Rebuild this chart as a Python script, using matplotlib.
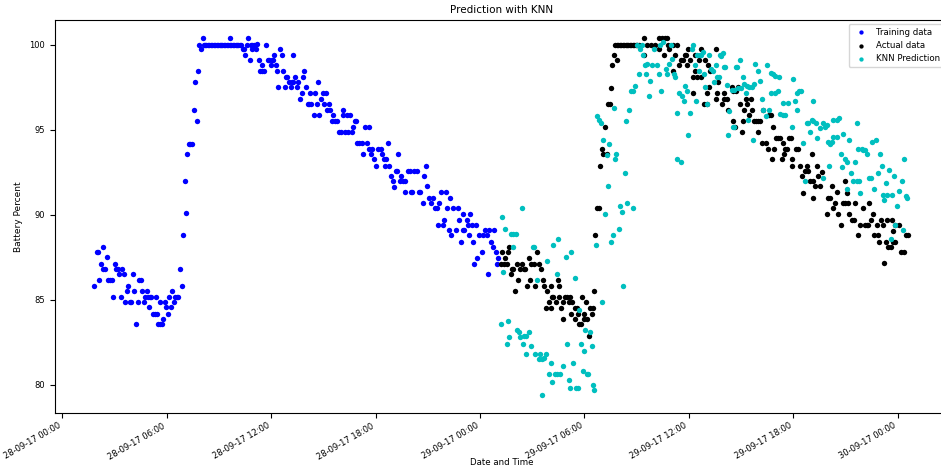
import matplotlib
matplotlib.use("Agg")
import matplotlib.pyplot as plt
import matplotlib.dates as mdates
import numpy as np
import datetime as dt

BASE = dt.datetime(2017, 9, 28, 0, 0)

# hours since 28-09-17 00:00, battery percent
train_hours = [1.83, 1.97, 2.03, 2.12, 2.22, 2.32, 2.36, 2.45, 2.58, 2.62, 2.74, 2.85, 2.91, 3.01, 3.08, 3.18,
               3.27, 3.35, 3.43, 3.52, 3.61, 3.70, 3.79, 3.87, 3.96, 4.04, 4.13, 4.23, 4.33, 4.40, 4.50, 4.57,
               4.67, 4.75, 4.84, 4.92, 4.99, 5.02, 5.11, 5.19, 5.32, 5.36, 5.45, 5.49, 5.61, 5.63, 5.71, 5.80,
               5.88, 5.95, 6.05, 6.14, 6.22, 6.32, 6.40, 6.47, 6.57, 6.66, 6.74, 6.86, 6.91, 7.03, 7.09, 7.18,
               7.26, 7.34, 7.43, 7.55, 7.62, 7.72, 7.81, 7.87, 7.98, 8.06,
               8.12, 8.20, 8.28, 8.37, 8.45, 8.53, 8.62, 8.70, 8.78, 8.87, 8.95, 9.03, 9.12, 9.20, 9.28, 9.37,
               9.45, 9.53, 9.62, 9.70, 9.78, 9.87, 9.95, 10.03, 10.12, 10.20, 10.28, 9.65,
               10.36, 10.44, 10.49, 10.59, 10.67, 10.76, 10.84, 10.91, 10.92, 11.01, 11.13, 11.18, 11.30, 11.37,
               11.45, 11.47, 11.57, 11.72, 11.80, 11.90, 11.99, 12.02, 12.09, 12.16, 12.25, 12.35, 12.41, 12.51,
               12.60, 12.68, 12.79, 12.83, 12.93, 13.04, 13.14, 13.17, 13.24, 13.27, 13.37, 13.48, 13.56, 13.67,
               13.75, 13.81, 13.90, 14.02, 14.10, 14.19, 14.25, 14.29, 14.44, 14.52, 14.62, 14.71, 14.76, 14.86,
               14.98, 15.02, 15.15, 15.30, 15.19, 15.38, 15.57, 15.49, 15.65, 15.80, 15.91, 16.03, 16.26, 16.41,
               16.64, 16.11, 16.14, 16.34, 16.53, 16.68, 16.80, 16.87, 16.91, 17.06, 17.22, 17.29, 17.39, 17.49,
               17.60, 17.64, 17.75, 17.79, 17.91, 18.02, 18.14, 18.29, 18.37, 18.48, 18.56, 18.60, 18.71, 18.79,
               18.87, 18.98, 19.06, 19.17, 19.25, 19.30, 19.40, 19.48, 19.56, 19.69, 19.71, 19.88, 19.98, 20.02,
               20.09, 20.21, 20.36, 20.48, 20.55, 20.71, 20.78, 20.90, 20.97, 21.07, 21.17, 21.32, 21.41, 21.51,
               21.60, 21.66, 21.76, 21.86, 21.93, 22.03, 22.08, 22.22, 22.28, 22.35, 22.43, 22.62, 22.72, 22.81,
               22.89, 23.01, 23.04, 23.10, 23.24, 23.33, 23.37, 23.43, 23.56, 23.58, 23.67, 23.79, 23.85, 23.97,
               24.12, 24.16, 24.29, 24.39, 24.48, 24.54, 24.65, 24.73, 24.82, 24.92, 24.99, 25.05]
train_values = [85.85, 87.8, 87.8, 86.2, 87.1, 88.1, 86.8, 86.8, 87.5, 86.2, 86.2, 86.2, 85.2, 87.1, 86.8, 86.8,
                86.5, 85.2, 86.8, 86.5, 84.9, 85.5, 85.8, 84.9, 84.9, 86.5, 85.5, 83.6, 84.9, 86.2, 86.2, 85.5,
                84.9, 85.2, 85.5, 85.2, 84.6, 85.2, 85.2, 84.2, 84.2, 85.2, 84.2, 83.6, 83.6, 84.9, 83.6, 83.9,
                84.9, 84.6, 84.2, 85.2, 84.6, 85.5, 84.9, 85.2, 85.2, 85.2, 86.8, 85.8, 88.8, 92.0, 90.1, 93.6,
                94.2, 94.2, 94.2, 96.2, 97.8, 95.5, 98.45, 100.0, 99.75, 100.4,
                100, 100, 100, 100, 100, 100, 100, 100, 100, 100, 100, 100, 100, 100, 100, 100,
                100, 100, 100, 100, 100, 100, 100, 100, 100, 100, 100, 100.4,
                99.75, 99.75, 99.4, 100, 100.4, 99.1, 100, 99.75, 100, 100, 99.75, 100.05, 99.1, 98.45,
                98.8, 98.45, 98.45, 100, 99.1, 99.1, 98.8, 99.1, 99.1, 99.4, 98.8, 98.45, 97.5, 99.75,
                99.4, 98.45, 97.5, 98.1, 98.1, 97.8, 97.5, 97.8, 97.8, 99.4, 98.1, 97.5, 97.8, 96.8,
                97.2, 98.1, 98.45, 97.5, 96.5, 96.5, 97.2, 96.5, 95.9, 97.2, 96.5, 97.8, 95.9, 96.8,
                97.2, 96.5, 97.2, 96.5, 96.2, 96.2, 95.9, 95.5, 95.5, 95.5, 94.9, 94.9, 94.9, 94.9,
                94.9, 96.2, 95.9, 95.9, 95.9, 95.2, 95.5, 95.5, 94.25, 94.25, 94.25, 93.6, 95.2, 94.25,
                93.9, 95.2, 93.6, 93.9, 93.3, 92.9, 93.9, 93.9, 93.6, 93.3, 92.9, 93.3, 94.25, 92.9,
                92.3, 92.0, 91.65, 92.6, 92.6, 93.6, 92.0, 92.3, 92.0, 91.35, 92.0, 92.6, 92.6, 91.35,
                91.35, 92.6, 92.6, 91.35, 91.35, 90.7, 92.3, 92.9, 91.7, 91.0, 90.7, 91.0, 90.4, 90.4,
                89.4, 90.7, 91.35, 89.4, 89.7, 91.35, 90.4, 89.1, 91.0, 88.8, 90.4, 89.1, 90.4, 89.7,
                88.4, 89.1, 90.05, 89.1, 89.7, 89.4, 88.8, 90.05, 89.4, 88.4, 87.1, 89.4, 87.45, 88.8,
                87.8, 88.8, 89.1, 88.8, 86.5, 89.1, 88.4, 88.1, 89.1, 87.8, 87.1, 87.45]

actual_hours = [25.19, 25.25, 25.36, 25.43, 25.53, 25.59, 25.67, 25.76, 25.82, 25.91, 26.03, 26.11, 26.20, 26.30,
                26.40, 26.53, 26.59, 26.72, 26.83, 26.87, 26.96, 27.10, 27.16, 27.26, 27.37, 27.51, 27.64, 27.66,
                27.78, 27.84, 27.95, 28.07, 28.12, 28.22, 28.06, 28.39, 28.50, 28.52, 28.54, 28.64, 28.75, 28.79,
                28.89, 29.02, 29.10, 29.17, 29.21, 29.29, 29.46, 29.56, 29.47, 29.66, 29.70, 29.82, 29.89, 29.97,
                29.99, 30.07, 30.13, 30.24, 30.33, 30.42, 30.48, 30.57, 30.64, 30.70, 30.84, 30.91, 30.99, 31.09,
                31.19, 31.28, 31.38, 31.47, 31.53, 31.59, 31.70, 31.86,
                31.78, 31.87, 31.95, 32.03, 32.12, 32.20, 32.28, 32.37, 32.45, 32.53, 32.62, 32.70, 32.78, 32.87,
                32.95, 33.03, 33.12,
                33.43, 33.43, 33.58, 33.83, 34.06, 34.27, 34.30, 34.46, 34.57, 34.61, 34.73, 34.79, 34.88, 35.07,
                35.11, 35.22, 35.30, 35.45, 35.57, 35.65, 35.78, 35.84, 35.91, 35.97, 36.07, 36.22, 36.26, 36.34,
                36.36, 36.45, 36.60, 36.68, 36.70, 36.87, 36.93, 37.03, 37.05, 37.10, 37.14, 37.22, 37.56, 37.56,
                37.60, 37.70, 37.91, 38.02, 38.03, 38.18, 38.27, 38.47, 38.56, 38.57, 38.66, 38.71, 38.84, 38.94,
                39.04, 39.13, 39.17, 39.29, 39.33, 39.48, 39.56, 39.61, 39.75, 39.86, 39.98, 39.99, 40.09, 40.19,
                40.28, 40.44, 40.57, 40.63, 40.71, 40.76, 40.86, 40.90, 41.01, 41.13, 41.24, 41.34, 41.40, 41.47,
                41.55, 41.63, 41.78, 41.86, 41.92, 41.93, 42.16, 42.29, 42.39, 42.49, 42.55, 42.68, 42.78, 42.87,
                42.97, 43.08, 43.12, 43.16, 43.25, 43.35, 43.44, 43.54, 43.64, 43.92, 44.01, 44.11, 44.21, 44.30,
                44.40, 44.53, 44.59, 44.73, 44.84, 44.98, 45.08, 45.00, 45.17, 45.23, 45.37, 45.51, 45.57, 45.75,
                45.84, 46.03, 46.13, 46.22, 46.32, 46.38, 46.45, 46.57, 46.64, 46.80, 46.89, 46.91, 47.05, 47.15,
                47.22, 47.33, 47.37, 47.47, 47.61, 47.66, 47.75, 47.76, 47.85, 47.87, 48.10, 48.18, 48.37, 48.48,
                48.61]
actual_values = [87.1, 87.8, 87.1, 87.45, 87.1, 87.8, 88.1, 86.5, 86.8, 86.8, 85.5, 87.1, 86.2, 86.8,
                 87.1, 86.8, 86.8, 85.8, 87.45, 86.2, 87.1, 87.1, 85.8, 87.8, 87.1, 86.8, 86.2, 85.8,
                 84.55, 85.5, 84.9, 85.8, 85.2, 85.2, 84.55, 84.9, 86.2, 85.8, 85.2, 84.55, 83.9, 84.9,
                 85.2, 85.2, 84.9, 85.2, 84.2, 84.9, 84.55, 84.55, 83.9, 84.2, 83.6, 83.6, 85.2, 83.9,
                 84.2, 84.9, 83.9, 82.9, 84.55, 84.2, 84.55, 85.5, 88.8, 90.4, 90.4, 92.9, 93.9, 93.6,
                 95.2, 93.6, 96.5, 96.5, 97.45, 98.8, 99.4, 99.1,
                 100, 100, 100, 100, 100, 100, 100, 100, 100, 100, 100, 100, 100, 100,
                 100, 100, 100,
                 100.4, 99.4, 100, 100, 100, 99.75, 100.4, 100.4, 99.4, 100.4, 100.4, 100, 99.75, 100,
                 98.45, 99.4, 100, 98.8, 99.1, 99.1, 99.4, 99.4, 98.8, 99.75, 99.1, 98.1, 97.2, 98.45,
                 99.4, 98.1, 99.1, 98.1, 99.75, 96.5, 99.1, 96.5, 97.2, 98.8, 97.5, 98.45, 96.8, 99.75,
                 97.2, 97.8, 96.5, 97.2, 96.8, 96.8, 96.2, 97.5, 97.3, 95.5, 95.2, 97.3, 97.5, 96.5,
                 94.9, 95.5, 96.2, 96.8, 96.5, 95.9, 96.8, 96.2, 95.5, 95.5, 94.9, 95.5, 95.5, 94.25,
                 96.2, 94.25, 93.9, 95.9, 95.9, 93.3, 95.2, 93.9, 94.55, 94.55, 94.55, 93.3, 94.25, 93.6,
                 93.9, 93.9, 94.55, 94.55, 92.9, 93.3, 93.9, 93.9, 92.9, 92.3, 91.3, 92.6, 92.9, 92.6,
                 92.0, 93.6, 91.0, 92.0, 91.7, 92.9, 92.3, 91.7, 92.5, 90.05, 91.0, 91.0, 91.7, 90.4,
                 90.7, 91.35, 90.05, 89.4, 90.7, 92.0, 91.3, 90.7, 90.7, 90.05, 89.7, 89.7, 90.7, 88.8,
                 89.4, 90.4, 89.4, 89.4, 89.4, 90.7, 89.7, 90.05, 88.8, 89.4, 88.8, 88.4, 89.7, 89.4,
                 87.15, 88.4, 89.7, 88.1, 88.1, 89.7, 89.05, 88.4, 89.4, 88.4, 89.4, 87.8, 87.8, 88.8,
                 88.8]

pred_hours = [25.19, 25.25, 25.34, 25.43, 25.53, 25.63, 25.68, 25.76, 25.87, 25.91, 26.07, 26.14, 26.24, 26.30,
              26.40, 26.45, 26.53, 26.64, 26.65, 26.83, 26.91, 27.03, 27.12, 27.16, 27.30, 27.41, 27.45, 27.55,
              27.56, 27.68, 27.79, 27.87, 27.95, 28.07, 28.14, 28.22, 28.31, 28.41, 28.44, 28.48, 28.60, 28.75,
              28.93, 29.02, 29.10, 29.17, 29.25, 29.36, 29.46, 29.52, 29.65, 29.71, 29.79, 29.90, 29.98, 30.05,
              30.13, 30.22, 30.32, 30.42, 30.48, 30.57, 30.66, 30.74, 30.82, 30.94, 31.01, 31.09, 31.17, 31.28,
              31.36, 31.44, 31.52, 31.63, 31.70, 31.78, 31.82, 31.97, 32.05, 32.14, 32.24, 32.32, 32.39, 32.47,
              32.59, 32.70, 32.78, 32.81, 32.93, 33.04, 33.12, 33.20, 33.30, 33.35, 33.47, 33.54, 33.61, 33.73,
              33.77, 33.89, 34.00, 34.16, 34.27, 34.34, 34.42, 34.53, 34.69, 34.76, 34.84, 34.96, 35.03, 35.15,
              35.22, 35.30, 35.34, 35.45, 35.53, 35.61, 35.72, 35.80, 35.91, 35.95, 36.07, 36.18, 36.26, 36.34,
              36.41, 36.49, 36.60, 36.62, 36.70, 36.81, 36.89, 36.95, 37.03, 37.14, 37.26, 37.41, 37.45, 37.56,
              37.64, 37.72, 37.79, 37.83, 37.95, 38.02, 38.08, 38.18, 38.27, 38.33, 38.47, 38.53, 38.60, 38.61,
              38.71, 38.79, 38.84, 38.94, 38.98, 39.10, 39.17, 39.29, 39.33, 39.42, 39.48, 39.61, 39.67, 39.75,
              39.80, 39.99, 40.09, 40.19, 40.28, 40.44, 40.52, 40.63, 40.71, 40.72, 40.83, 40.95, 40.98, 41.14,
              41.20, 41.24, 41.40, 41.41, 41.53, 41.72, 41.92, 42.01, 42.11, 42.21, 42.24, 42.35, 42.43, 42.55,
              42.68, 42.78, 42.87, 42.97, 43.06, 43.12, 43.16, 43.31, 43.39, 43.54, 43.70, 43.73, 43.83, 43.92,
              44.01, 44.07, 44.11, 44.21, 44.27, 44.30, 44.50, 44.53, 44.65, 44.73, 44.80, 44.88, 44.98, 45.08,
              45.11, 45.23, 45.31, 45.43, 45.55, 45.65, 45.67, 45.75, 45.76, 45.84, 45.94, 46.03, 46.13, 46.22,
              46.38, 46.45, 46.51, 46.64, 46.76, 46.89, 46.99, 47.09, 47.18, 47.22, 47.33, 47.42, 47.52, 47.60,
              47.66, 47.80, 47.85, 47.95, 48.10, 48.24, 48.30, 48.37, 48.48, 48.56]
pred_values = [83.6, 89.9, 86.65, 89.2, 82.4, 83.75, 82.8, 88.9, 88.1, 88.9, 88.9, 83.25, 83.1, 82.8,
               90.4, 82.4, 82.9, 82.9, 81.8, 83.1, 82.3, 88.1, 88.1, 81.8, 86.2, 81.5, 81.8, 79.4,
               81.5, 81.6, 81.8, 87.3, 80.65, 81.3, 80.2, 88.25, 80.65, 86.5, 80.65, 88.6, 80.65, 81.1,
               87.5, 82.4, 80.3, 79.85, 87.8, 81.3, 86.3, 79.85, 79.85, 84.4, 82.4, 80.8, 82.0, 83.25,
               80.65, 80.65, 83.1, 82.3, 80.0, 79.7, 88.25, 95.8, 95.6, 95.4, 84.9, 94.4, 90.05, 93.5,
               91.7, 94.2, 88.4, 88.8, 96.3, 93.3, 93.6, 89.2, 90.5, 90.2, 85.8, 92.45, 95.5, 90.7,
               96.2, 97.3, 97.3, 90.4, 97.6, 100, 98.3, 99.75, 100, 99.4, 98.8, 98.3, 98.9, 97.0,
               97.9, 98.8, 99.75, 98.8, 98.3, 100, 97.3, 100.2, 98.6, 98.3, 98.9, 100, 99.2, 98.3,
               98.1, 93.3, 96.0, 97.2, 93.1, 97.0, 96.7, 97.6, 97.3, 94.7, 96.0, 99.75, 100, 98.8,
               96.7, 99.4, 98.45, 99.4, 99.4, 99.6, 98.3, 97.5, 96.5, 99.4, 98.6, 98.45, 97.8, 98.8,
               98.1, 98.1, 99.4, 99.35, 99.5, 98.7, 98.7, 97.65, 94.7, 96.1, 97.35, 95.2, 97.35, 95.2,
               98.7, 98.7, 97.45, 99.1, 97.45, 98.1, 97.7, 97.2, 97.6, 95.6, 97.5, 97.5, 94.4, 97.7,
               98.9, 98.45, 97.9, 96.8, 96.2, 95.8, 98.8, 96.2, 98.35, 97.2, 98.3, 98.2, 97.2, 97.3,
               98.1, 95.95, 96.6, 95.9, 95.9, 96.6, 95.2, 98.0, 96.7, 96.2, 97.2, 97.3, 97.3, 94.25,
               92.0, 95.4, 95.4, 94.9, 95.6, 96.7, 95.5, 95.4, 94.55, 95.1, 92.2, 95.4, 95.2, 95.3,
               94.3, 92.9, 94.2, 94.3, 94.6, 95.6, 94.6, 95.6, 95.7, 93.6, 92.85, 94.75, 93.3, 93.1,
               91.5, 94.4, 92.45, 92.0, 93.1, 95.4, 92.0, 93.9, 92.0, 91.3, 93.9, 93.8, 93.8, 93.6,
               92.2, 92.2, 94.3, 91.5, 94.4, 92.45, 93.6, 92.9, 91.2, 90.9, 91.9, 91.2, 92.65, 88.6,
               91.2, 92.3, 89.4, 90.5, 91.4, 92.0, 89.1, 93.3, 91.1, 91.0]

series_labels = ["Training data", "Actual data", "KNN Prediction"]
series_colors = ["b", "k", "c"]


def to_dates(hours):
    return [BASE + dt.timedelta(hours=h) for h in hours]


fig = plt.figure(figsize=(9.41, 4.67), dpi=100)
ax = fig.add_axes([55 / 941, 54 / 467, 893 / 941, 393 / 467])

for hrs, vals, lab, col in zip([train_hours, actual_hours, pred_hours],
                               [train_values, actual_values, pred_values],
                               series_labels, series_colors):
    ax.scatter(to_dates(hrs), vals, s=15, c=col, label=lab, linewidths=0)

ax.set_xlim(BASE + dt.timedelta(hours=-0.425), BASE + dt.timedelta(hours=50.9))
ax.set_ylim(78.35, 101.47)
ax.xaxis.set_major_locator(mdates.HourLocator(byhour=[0, 6, 12, 18]))
ax.xaxis.set_major_formatter(mdates.DateFormatter("%d-%m-%y %H:%M"))
ax.set_yticks([80, 85, 90, 95, 100])
ax.tick_params(axis="both", labelsize=6)
ax.tick_params(axis="x", pad=2.5)
for lbl in ax.get_xticklabels():
    lbl.set_rotation(30)
    lbl.set_ha("right")

ax.set_title("Prediction with KNN", fontsize=7.5, pad=5)
ax.set_xlabel("Date and Time", fontsize=6.2)
ax.xaxis.set_label_coords(0.5, -0.115)
ax.set_ylabel("Battery Percent", fontsize=6.5, labelpad=5)
ax.legend(loc="upper right", fontsize=6.2, scatterpoints=1, markerscale=0.8)

fig.savefig("out.png", dpi=100)
